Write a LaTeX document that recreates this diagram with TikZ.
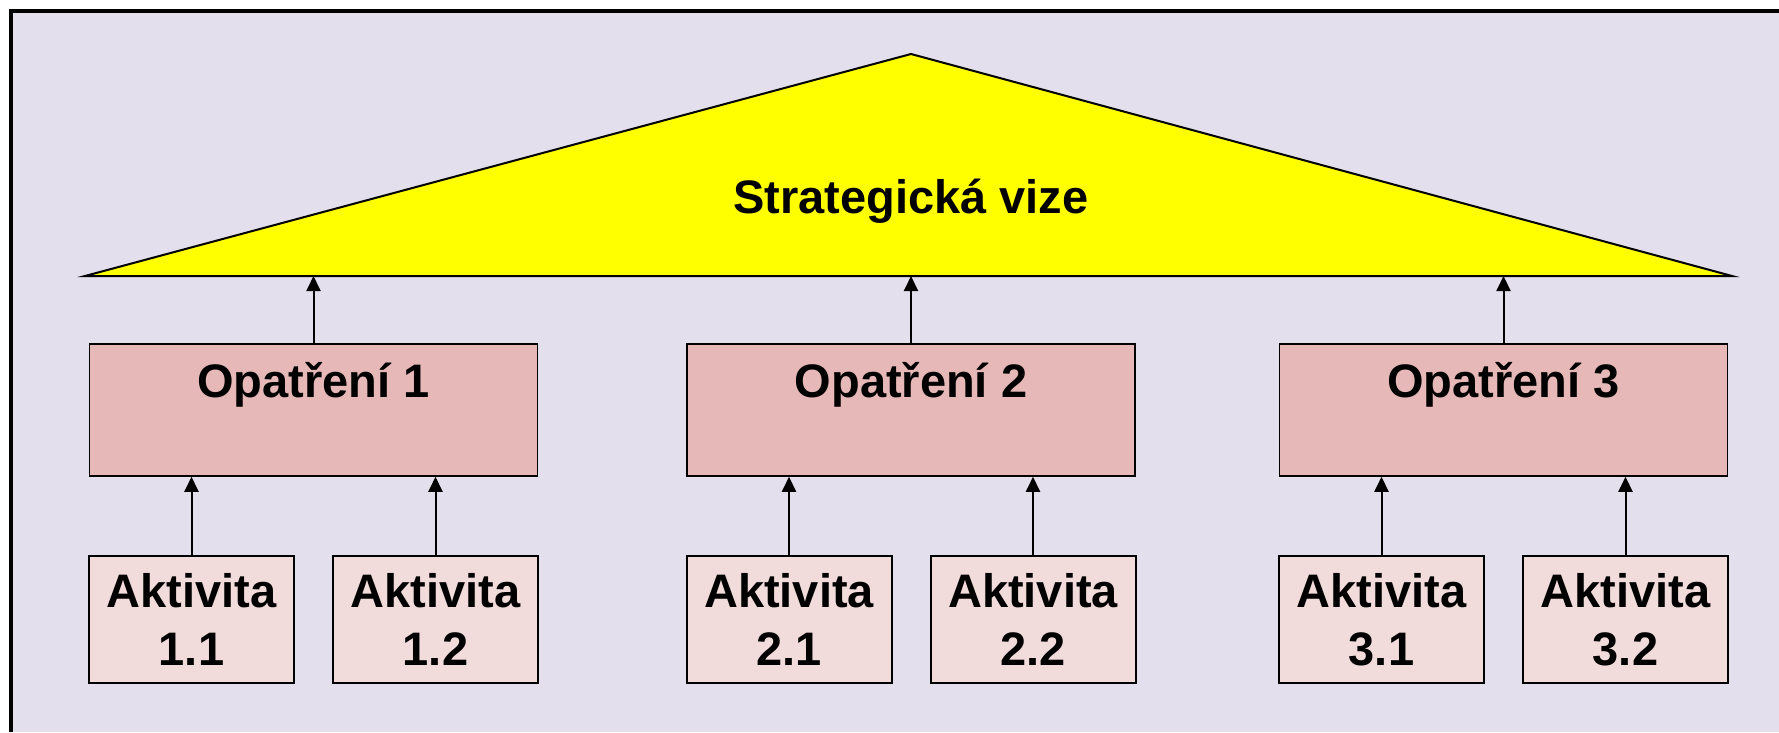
\documentclass[tikz,border=0pt]{standalone}
\usepackage{fontspec}
\setmainfont{Liberation Sans}
\usetikzlibrary{arrows.meta}
\definecolor{bgLila}{HTML}{E4DFEC}
\definecolor{opRuzova}{HTML}{E6B8B7}
\definecolor{akRuzova}{HTML}{F2DCDB}
\definecolor{vizeZluta}{HTML}{FFFF00}
\begin{document}
\begin{tikzpicture}[x=1pt, y=-1pt, >={Triangle[length=15pt, width=14pt]}, line width=2pt,
    font=\bfseries\fontsize{47}{58}\selectfont,
    opbox/.style={draw, fill=opRuzova, line width=1.5pt, minimum width=448pt, minimum height=132pt},
    akbox/.style={draw, fill=akRuzova, minimum width=205pt, minimum height=127pt, align=center, inner sep=0pt}]
    \useasboundingbox (0,0) rectangle (1779,732);
    % pozadi
    \fill [bgLila] (11,11) rectangle (1779,732);
    \draw [line width=3.7pt] (11,732) -- (11,11) -- (1779,11);

    % vize
    \draw [fill=vizeZluta]
        (85,276) coordinate (vL) -- (911,54) coordinate (vT) -- (1732,276) coordinate (vR) -- cycle;
    \node [anchor=base] (vize) at (911,213) {Strategická vize};

    % opatreni a aktivity
    \foreach \i/\x in {1/313.5, 2/911, 3/1503.5} {
        \node [opbox] (op\i) at (\x,410) {};
        \node [anchor=base] (opt\i) at ([yshift=-54pt]op\i.north) {Opatření \i};
        \node [akbox] (ak\i1) at (\x-122,619.5) {Aktivita\\\i.1};
        \node [akbox] (ak\i2) at (\x+122,619.5) {Aktivita\\\i.2};
        \draw [->] (op\i.north) -- (op\i.north |- vL);
        \draw [->] (ak\i1.north) -- (ak\i1.north |- op\i.south);
        \draw [->] (ak\i2.north) -- (ak\i2.north |- op\i.south);
    }
\end{tikzpicture}
\end{document}
